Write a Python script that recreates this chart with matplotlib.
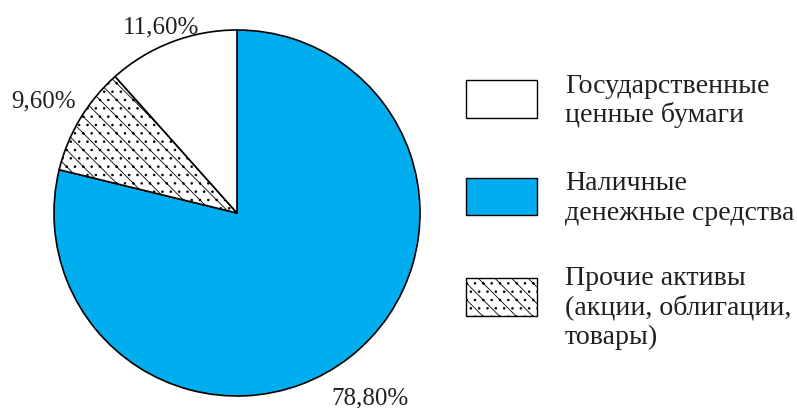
import matplotlib
matplotlib.use("Agg")
import matplotlib.pyplot as plt
from matplotlib.patches import Rectangle

plt.rcParams['font.family'] = ['Liberation Serif', 'DejaVu Serif']
plt.rcParams['hatch.linewidth'] = 0.6

categories = [["Наличные", "денежные средства"],
              ["Прочие активы", "(акции, облигации,", "товары)"],
              ["Государственные", "ценные бумаги"]]
values = [78.8, 9.6, 11.6]
pct_labels = ["78,80%", "9,60%", "11,60%"]
colors = ["#00AEEF", "white", "white"]
hatches = [None, "\\\\..", None]
legend_order = [2, 0, 1]

W, H = 797, 408
fig = plt.figure(figsize=(W / 100, H / 100), dpi=100)
ax = fig.add_axes([0, 0, 1, 1])

cx, cy, r = 237, H - 213, 183
wedges, _ = ax.pie(values, colors=colors, startangle=90, counterclock=False,
                   center=(cx, cy), radius=r, frame=True,
                   wedgeprops=dict(edgecolor='black', linewidth=1.2))
for w, h in zip(wedges, hatches):
    if h:
        w.set_hatch(h)
ax.set_xlim(0, W)
ax.set_ylim(0, H)
ax.set_aspect('equal')
ax.axis('off')

txtcol = "#231f20"
label_pos = [(370, H - 404), (44, H - 107), (161, H - 33)]
for lab, (x, y) in zip(pct_labels, label_pos):
    ax.text(x, y, lab, ha='center', va='baseline', fontsize=18, color=txtcol)

box_tops = [80, 177.5, 278]
first_baselines = [93, 190, 285]
line_step = 29.5
for i, idx in enumerate(legend_order):
    top = box_tops[i]
    rect = Rectangle((466, H - top - 37.5), 71, 37.5, facecolor=colors[idx],
                     edgecolor='black', linewidth=1.0, hatch=hatches[idx])
    ax.add_patch(rect)
    for j, line in enumerate(categories[idx]):
        ax.text(565, H - (first_baselines[i] + j * line_step), line,
                ha='left', va='baseline', fontsize=20.1, color=txtcol)

fig.savefig("out.png", dpi=100)
